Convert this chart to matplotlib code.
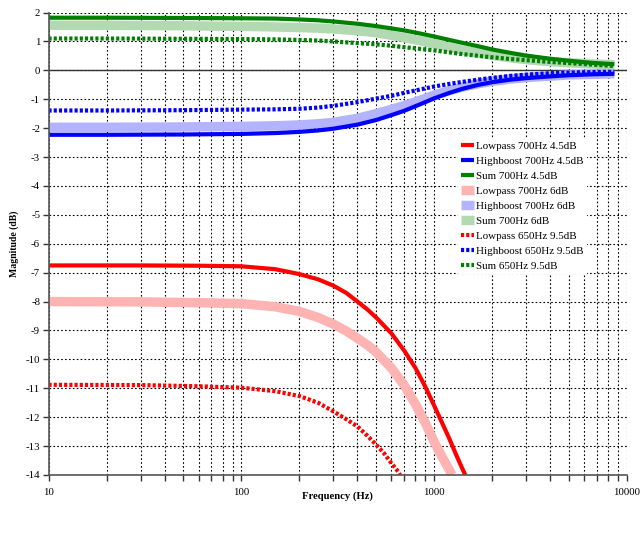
import matplotlib
matplotlib.use("Agg")
import matplotlib.pyplot as plt
from matplotlib.ticker import FixedLocator, FixedFormatter, NullFormatter

# ---------------- data ----------------
f_lp45 = [10, 30, 60, 100, 150, 200, 250, 300, 350, 400, 450, 500, 600, 700, 800, 900,
          1000, 1100, 1200, 1300, 1400, 1450]
lp45   = [-6.75, -6.75, -6.76, -6.78, -6.88, -7.05, -7.23, -7.45, -7.7, -8.0, -8.27, -8.55,
          -9.1, -9.7, -10.3, -10.95, -11.6, -12.2, -12.75, -13.3, -13.78, -14.0]

f_lp6 = [10, 30, 60, 100, 150, 200, 250, 300, 350, 400, 450, 500, 600, 700, 800, 900,
         1000, 1100, 1200, 1240]
lp6   = [-8.0, -8.01, -8.04, -8.07, -8.18, -8.34, -8.55, -8.78, -9.02, -9.27, -9.5, -9.75,
         -10.3, -10.9, -11.55, -12.2, -12.85, -13.38, -13.83, -14.0]

f_lp95 = [10, 30, 60, 100, 150, 200, 250, 300, 350, 400, 450, 500, 550, 600, 650, 665]
lp95   = [-10.88, -10.89, -10.93, -10.98, -11.1, -11.27, -11.5, -11.8, -12.07, -12.32,
          -12.64, -12.95, -13.25, -13.59, -13.88, -14.0]

f_top = [10, 20, 50, 100, 150, 200, 250, 300, 400, 500, 600, 700, 850, 1000, 1200, 1400,
         1700, 2000, 2500, 3000, 4000, 5000, 6500, 8600]
hb45  = [-2.23, -2.23, -2.22, -2.2, -2.17, -2.13, -2.08, -2.02, -1.88, -1.72, -1.55, -1.4,
         -1.17, -0.97, -0.78, -0.64, -0.5, -0.41, -0.32, -0.27, -0.21, -0.17, -0.14, -0.12]
hb6   = [-1.97, -1.97, -1.96, -1.94, -1.92, -1.89, -1.85, -1.8, -1.66, -1.5, -1.35, -1.22,
         -1.03, -0.86, -0.7, -0.58, -0.46, -0.38, -0.3, -0.25, -0.2, -0.16, -0.14, -0.12]
hb95  = [-1.39, -1.39, -1.38, -1.36, -1.35, -1.33, -1.29, -1.23, -1.1, -0.98, -0.88, -0.78,
         -0.66, -0.56, -0.47, -0.4, -0.32, -0.26, -0.19, -0.15, -0.1, -0.08, -0.06, -0.05]
sum45 = [1.82, 1.82, 1.81, 1.8, 1.79, 1.76, 1.73, 1.69, 1.61, 1.53, 1.45, 1.38,
         1.27, 1.17, 1.05, 0.95, 0.83, 0.72, 0.6, 0.51, 0.4, 0.33, 0.26, 0.21]
sum6  = [1.56, 1.56, 1.54, 1.52, 1.5, 1.48, 1.46, 1.43, 1.37, 1.3, 1.21, 1.13,
         1.02, 0.92, 0.8, 0.7, 0.6, 0.52, 0.43, 0.37, 0.3, 0.26, 0.22, 0.19]
sum95 = [1.1, 1.1, 1.09, 1.08, 1.07, 1.05, 1.03, 1.0, 0.94, 0.9, 0.85, 0.8,
         0.74, 0.69, 0.62, 0.56, 0.5, 0.45, 0.39, 0.35, 0.29, 0.25, 0.2, 0.15]

labels = ["Lowpass 700Hz 4.5dB", "Highboost 700Hz 4.5dB", "Sum 700Hz 4.5dB",
          "Lowpass 700Hz 6dB", "Highboost 700Hz 6dB", "Sum 700Hz 6dB",
          "Lowpass 650Hz 9.5dB", "Highboost 650Hz 9.5dB", "Sum 650Hz 9.5dB"]

x_ticks = [10, 100, 1000, 10000]
x_ticklabels = ["10", "100", "1000", "10000"]
y_ticks = list(range(-14, 3))

# ---------------- style ----------------
plt.rcParams['font.family'] = ['Liberation Serif', 'DejaVu Serif']
RED, BLUE, GREEN = '#ff0000', '#0000ff', '#008000'
PINK, LBLUE, LGREEN = '#ffb3b3', '#b3b3ff', '#b3d9b3'
DOT = (0, (0.75, 0.5))

fig = plt.figure(figsize=(6.4, 5.34), dpi=100)
ax = fig.add_axes([48.5/640, 1-475/534, (627-48.5)/640, (475-12.5)/534])

ax.set_xscale('log')
ax.set_xlim(10, 10000)
ax.set_ylim(-14, 2)

lw_s, lw_b, lw_d = 3.0, 6.8, 3.0
h = {}
h[3], = ax.plot(f_lp6, lp6, color=PINK, lw=lw_b, solid_capstyle='butt', zorder=3)
h[4], = ax.plot(f_top, hb6, color=LBLUE, lw=lw_b, solid_capstyle='butt', zorder=3)
h[5], = ax.plot(f_top, sum6, color=LGREEN, lw=lw_b, solid_capstyle='butt', zorder=3)
h[0], = ax.plot(f_lp45, lp45, color=RED, lw=lw_s, solid_capstyle='butt', zorder=4)
h[1], = ax.plot(f_top, hb45, color=BLUE, lw=lw_s, solid_capstyle='butt', zorder=4)
h[2], = ax.plot(f_top, sum45, color=GREEN, lw=lw_s, solid_capstyle='butt', zorder=4)
h[6], = ax.plot(f_lp95, lp95, color=RED, lw=lw_d, ls=DOT, dash_capstyle='butt', zorder=5)
h[7], = ax.plot(f_top, hb95, color=BLUE, lw=lw_d, ls=DOT, dash_capstyle='butt', zorder=5)
h[8], = ax.plot(f_top, sum95, color=GREEN, lw=lw_d, ls=DOT, dash_capstyle='butt', zorder=5)

# grid
ax.grid(True, which='both', axis='x', color='black', lw=0.8, ls=(0, (1.5, 2.0)), zorder=1)
ax.grid(True, which='major', axis='y', color='black', lw=0.8, ls=(0, (1.5, 2.0)), zorder=1)
ax.axhline(0, color='#333333', lw=1.0, zorder=2)

ax.xaxis.set_major_locator(FixedLocator(x_ticks))
ax.xaxis.set_major_formatter(FixedFormatter(x_ticklabels))
ax.xaxis.set_minor_formatter(NullFormatter())
ax.set_yticks(y_ticks)
ax.set_yticklabels([str(v) for v in y_ticks])

for s in ['top', 'right']:
    ax.spines[s].set_visible(False)
for s in ['left', 'bottom']:
    ax.spines[s].set_color('#555555')
    ax.spines[s].set_linewidth(1.2)
    ax.spines[s].set_zorder(6)

ax.tick_params(axis='both', which='both', direction='out', length=4.5, width=1.0,
               color='#333333', labelsize=7.8, pad=2)
ax.tick_params(axis='y', pad=1.5)
ax.tick_params(axis='x', pad=5)

ax.set_xlabel("Frequency (Hz)", fontsize=7.7, fontweight='bold', labelpad=-4)
ax.set_ylabel("Magnitude (dB)", fontsize=7.0, fontweight='bold', labelpad=5)

leg = ax.legend([h[i] for i in range(9)], labels, loc='upper left',
                bbox_to_anchor=(458/640, 1-138/534), bbox_transform=fig.transFigure,
                frameon=True, fancybox=False, framealpha=1, facecolor='white',
                edgecolor='none', fontsize=7.9, handlelength=1.12, handletextpad=0.2,
                labelspacing=0.48, borderpad=0.3, borderaxespad=0)
leg.set_zorder(10)

fig.savefig("out.png", dpi=100)
